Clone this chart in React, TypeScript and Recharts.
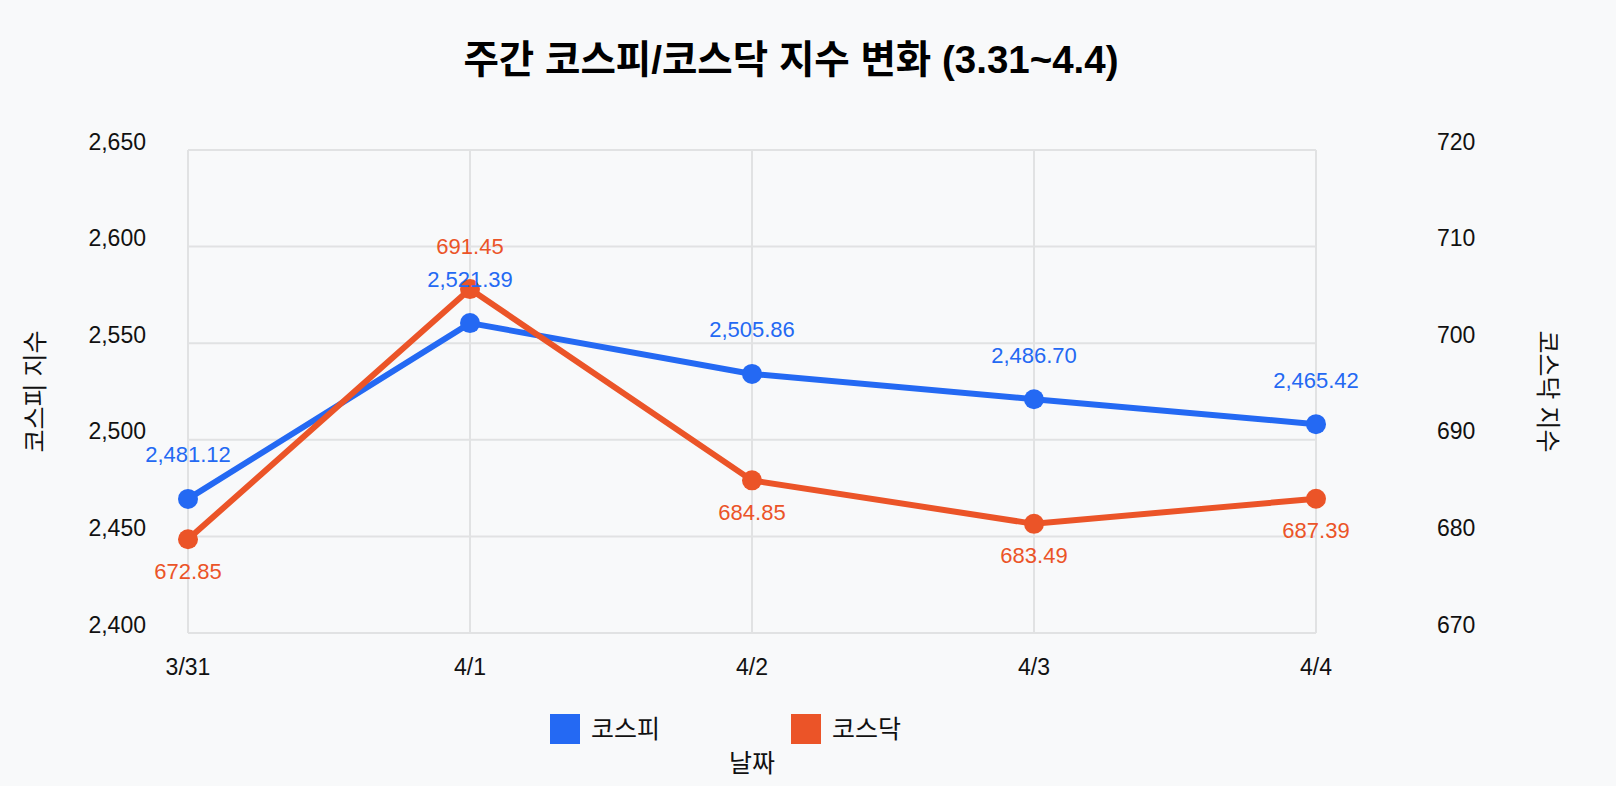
import React from 'react';
import {
  LineChart,
  Line,
  XAxis,
  YAxis,
  CartesianGrid,
  Legend,
  LabelList
} from 'recharts';

const dates = ['3/31', '4/1', '4/2', '4/3', '4/4'];
const kospi = [2469.4, 2560.4, 2534.1, 2521.0, 2508.1];
const kosdaq = [679.7, 705.6, 685.8, 681.3, 683.9];
const kospiLabels = ['2,481.12', '2,521.39', '2,505.86', '2,486.70', '2,465.42'];
const kosdaqLabels = ['672.85', '691.45', '684.85', '683.49', '687.39'];
const kospiTicks = [2400, 2450, 2500, 2550, 2600, 2650];
const kosdaqTicks = [670, 680, 690, 700, 710, 720];
const seriesNames = ['코스피', '코스닥'];

const FONT = "'Liberation Sans', 'Noto Sans CJK KR', sans-serif";
const BLUE = '#2469F3';
const ORANGE = '#EB5428';
const GRID = '#E1E2E3';

const chartData = dates.map((d, i) => ({
  date: d,
  kospi: kospi[i],
  kosdaq: kosdaq[i],
}));

const kosdaqMaxIdx = kosdaq.indexOf(Math.max(...kosdaq));

const LeftTick = ({ x, y, payload }: any) => (
  <text x={x} y={y - 8.5} textAnchor="end" dominantBaseline="central" fontSize={23} fontFamily={FONT} fill="#111">
    {Number(payload.value).toLocaleString('en-US')}
  </text>
);

const RightTick = ({ x, y, payload }: any) => (
  <text x={x} y={y - 8.5} textAnchor="start" dominantBaseline="central" fontSize={23} fontFamily={FONT} fill="#111">
    {payload.value}
  </text>
);

const BottomTick = ({ x, y, payload }: any) => (
  <text x={x} y={y + 32} textAnchor="middle" dominantBaseline="central" fontSize={23} fontFamily={FONT} fill="#111">
    {payload.value}
  </text>
);

const KospiLabel = ({ x, y, index }: any) => (
  <text x={x} y={y - 44} textAnchor="middle" dominantBaseline="central" fontSize={22} fontFamily={FONT} fill={BLUE}>
    {kospiLabels[index]}
  </text>
);

const KosdaqLabel = ({ x, y, index }: any) => (
  <text
    x={x}
    y={index === kosdaqMaxIdx ? y - 43 : y + 32}
    textAnchor="middle"
    dominantBaseline="central"
    fontSize={22}
    fontFamily={FONT}
    fill={ORANGE}
  >
    {kosdaqLabels[index]}
  </text>
);

const LegendContent = ({ payload }: any) => {
  const items = [...(payload || [])].sort(
    (a: any, b: any) => seriesNames.indexOf(a.value) - seriesNames.indexOf(b.value)
  );
  return (
    <div style={{ display: 'flex', gap: 131, fontFamily: FONT, fontSize: 25, color: '#111' }}>
      {items.map((p: any) => (
        <div key={p.value} style={{ display: 'flex', alignItems: 'center' }}>
          <span style={{ width: 30, height: 30, background: p.color, display: 'inline-block', marginRight: 11 }} />
          <span style={{ lineHeight: '30px' }}>{p.value}</span>
        </div>
      ))}
    </div>
  );
};

export default function App() {
  return (
    <div style={{ position: 'absolute', left: 0, top: 0, width: 1616, height: 786, background: '#F8F9FA' }}>
      <div
        style={{
          position: 'absolute',
          left: 391,
          width: 800,
          top: 35,
          height: 50,
          lineHeight: '50px',
          textAlign: 'center',
          fontFamily: FONT,
          fontWeight: 700,
          fontSize: 38.5,
          color: '#000',
        }}
      >
        주간 코스피/코스닥 지수 변화 (3.31~4.4)
      </div>
      <LineChart width={1616} height={786} data={chartData} margin={{ top: 150, right: 0, bottom: 113, left: 0 }}>
        <CartesianGrid yAxisId="left" stroke={GRID} strokeWidth={2} />
        <XAxis
          dataKey="date"
          axisLine={false}
          tickLine={false}
          tickSize={0}
          height={40}
          tick={<BottomTick />}
          label={{
            content: ({ viewBox }: any) => (
              <text
                x={viewBox.x + viewBox.width / 2}
                y={viewBox.y + 130}
                textAnchor="middle"
                dominantBaseline="central"
                fontSize={25}
                fontFamily={FONT}
                fill="#111"
              >
                날짜
              </text>
            ),
          }}
        />
        <YAxis
          yAxisId="left"
          orientation="left"
          width={188}
          domain={[2400, 2650]}
          ticks={kospiTicks}
          axisLine={false}
          tickLine={false}
          tickSize={0}
          tickMargin={42}
          tick={<LeftTick />}
          label={{
            content: ({ viewBox }: any) => (
              <text
                transform={`translate(35, ${viewBox.y + viewBox.height / 2}) rotate(-90)`}
                textAnchor="middle"
                dominantBaseline="central"
                fontSize={25}
                fontFamily={FONT}
                fill="#111"
              >
                코스피 지수
              </text>
            ),
          }}
        />
        <YAxis
          yAxisId="right"
          orientation="right"
          width={300}
          domain={[670, 720]}
          ticks={kosdaqTicks}
          axisLine={false}
          tickLine={false}
          tickSize={0}
          tickMargin={121}
          tick={<RightTick />}
          label={{
            content: ({ viewBox }: any) => (
              <text
                transform={`translate(${viewBox.x + 232}, ${viewBox.y + viewBox.height / 2}) rotate(90)`}
                textAnchor="middle"
                dominantBaseline="central"
                fontSize={25}
                fontFamily={FONT}
                fill="#111"
              >
                코스닥 지수
              </text>
            ),
          }}
        />
        <Legend
          layout="vertical"
          align="center"
          verticalAlign="bottom"
          content={<LegendContent />}
          wrapperStyle={{ left: 550, top: 714, width: 'auto', height: 0, bottom: 'auto', overflow: 'visible' }}
        />
        <Line
          yAxisId="left"
          type="linear"
          dataKey="kospi"
          name="코스피"
          stroke={BLUE}
          strokeWidth={6}
          dot={{ r: 10, fill: BLUE, stroke: BLUE, strokeWidth: 0 }}
          activeDot={false}
          isAnimationActive={false}
        >
          <LabelList dataKey="kospi" content={<KospiLabel />} />
        </Line>
        <Line
          yAxisId="right"
          type="linear"
          dataKey="kosdaq"
          name="코스닥"
          stroke={ORANGE}
          strokeWidth={6}
          dot={{ r: 10, fill: ORANGE, stroke: ORANGE, strokeWidth: 0 }}
          activeDot={false}
          isAnimationActive={false}
        >
          <LabelList dataKey="kosdaq" content={<KosdaqLabel />} />
        </Line>
      </LineChart>
    </div>
  );
}
